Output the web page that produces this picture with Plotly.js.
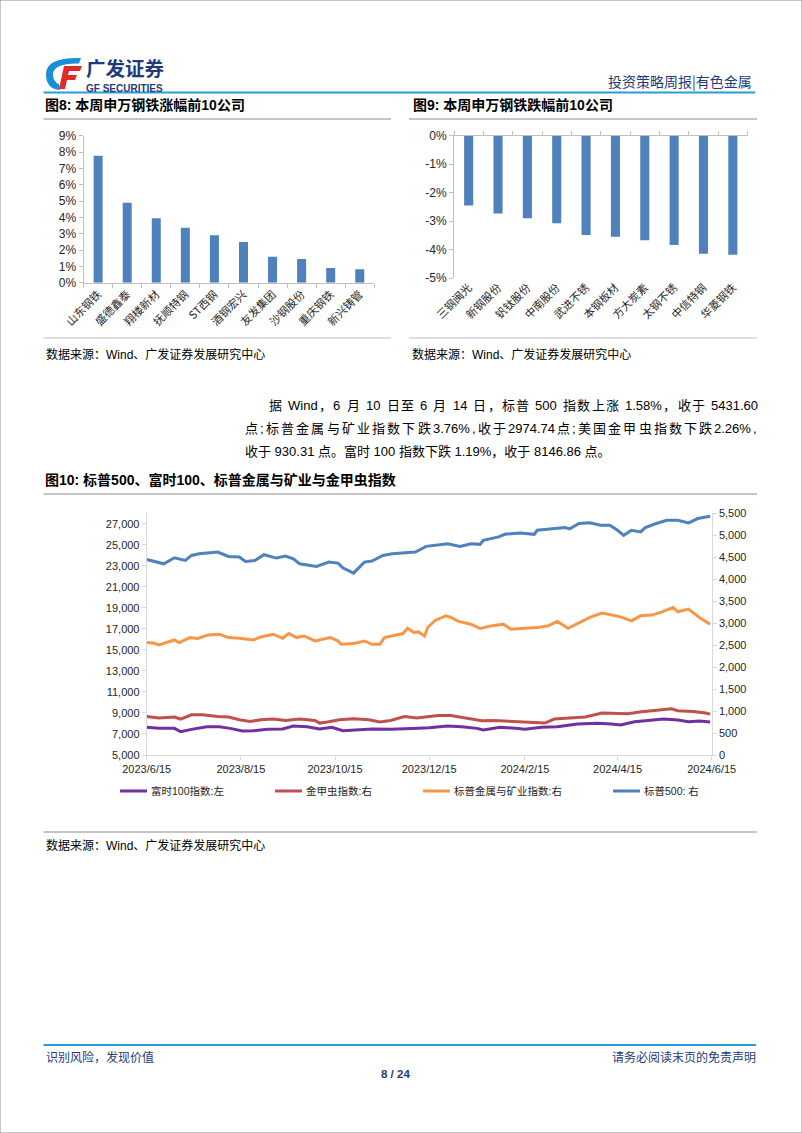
<!DOCTYPE html>
<html><head><meta charset="utf-8">
<script src="https://cdn.plot.ly/plotly-3.0.1.min.js"></script>
<style>html,body{margin:0;padding:0;background:#fff}#page{width:802px;height:1133px}</style>
</head><body><div id="page"></div>
<script>
// ---------------- DATA ----------------
const risersNames = ['山东钢铁','盛德鑫泰','翔楼新材','抚顺特钢','ST西钢','酒钢宏兴','友发集团','沙钢股份','重庆钢铁','新兴铸管'];
const risersPct   = [7.78, 4.90, 3.94, 3.37, 2.90, 2.49, 1.59, 1.45, 0.90, 0.82];

const fallersNames = ['三钢闽光','新钢股份','钒钛股份','中南股份','武进不锈','本钢板材','方大炭素','太钢不锈','中信特钢','华菱钢铁'];
const fallersPct   = [-2.45, -2.73, -2.90, -3.08, -3.49, -3.55, -3.67, -3.84, -4.15, -4.18];
const fallersTicks = [0, -1, -2, -3, -4, -5];

const spxDates = ['2023-06-15','2023-06-26','2023-07-03','2023-07-10','2023-07-14','2023-07-19','2023-07-31','2023-08-07','2023-08-14','2023-08-18','2023-08-24','2023-08-30','2023-09-07','2023-09-13','2023-09-18','2023-09-22','2023-10-03','2023-10-11','2023-10-17','2023-10-20','2023-10-27','2023-11-03','2023-11-08','2023-11-15','2023-11-21','2023-11-30','2023-12-06','2023-12-13','2023-12-18','2023-12-27','2024-01-04','2024-01-11','2024-01-17','2024-01-19','2024-01-29','2024-02-02','2024-02-12','2024-02-21','2024-02-23','2024-03-04','2024-03-12','2024-03-15','2024-03-21','2024-03-28','2024-04-04','2024-04-10','2024-04-15','2024-04-19','2024-04-24','2024-04-30','2024-05-03','2024-05-10','2024-05-17','2024-05-24','2024-05-31','2024-06-06','2024-06-14'];
const spxVals = [4449,4351,4488,4427,4541,4580,4619,4518,4504,4404,4427,4557,4481,4527,4465,4351,4289,4389,4366,4259,4138,4389,4412,4541,4580,4603,4619,4748,4770,4809,4748,4809,4793,4885,4962,5022,5054,5022,5114,5153,5175,5146,5267,5283,5228,5228,5114,4999,5114,5077,5175,5267,5343,5343,5283,5381,5432];

const metalsDates = ['2023-06-15','2023-06-20','2023-06-23','2023-07-03','2023-07-06','2023-07-13','2023-07-18','2023-07-25','2023-08-01','2023-08-07','2023-08-14','2023-08-23','2023-08-28','2023-09-05','2023-09-11','2023-09-15','2023-09-20','2023-09-25','2023-10-02','2023-10-09','2023-10-12','2023-10-17','2023-10-19','2023-10-27','2023-11-03','2023-11-08','2023-11-13','2023-11-16','2023-11-21','2023-11-28','2023-12-01','2023-12-05','2023-12-08','2023-12-12','2023-12-14','2023-12-19','2023-12-26','2023-12-29','2024-01-03','2024-01-11','2024-01-17','2024-01-24','2024-02-01','2024-02-06','2024-02-15','2024-02-23','2024-03-01','2024-03-07','2024-03-14','2024-03-20','2024-03-28','2024-04-05','2024-04-11','2024-04-17','2024-04-24','2024-04-30','2024-05-07','2024-05-13','2024-05-21','2024-05-24','2024-05-31','2024-06-04','2024-06-07','2024-06-14'];
const metalsVals = [2558,2542,2503,2618,2558,2672,2650,2732,2748,2672,2656,2618,2686,2748,2656,2764,2672,2709,2595,2650,2672,2595,2519,2535,2595,2519,2519,2672,2709,2764,2885,2787,2801,2709,2901,3068,3167,3130,3039,2977,2878,2938,2977,2862,2885,2901,2938,3039,2885,2993,3130,3229,3190,3144,3053,3167,3183,3245,3359,3259,3320,3206,3130,2975];

const goldBugsDates = ['2023-06-15','2023-06-23','2023-07-03','2023-07-07','2023-07-14','2023-07-21','2023-07-31','2023-08-07','2023-08-14','2023-08-21','2023-08-28','2023-09-05','2023-09-13','2023-09-22','2023-10-02','2023-10-05','2023-10-10','2023-10-18','2023-10-27','2023-11-06','2023-11-13','2023-11-20','2023-11-29','2023-12-07','2023-12-15','2023-12-21','2023-12-29','2024-01-08','2024-01-18','2024-01-26','2024-02-06','2024-02-15','2024-02-28','2024-03-05','2024-03-14','2024-03-25','2024-04-05','2024-04-15','2024-04-22','2024-04-29','2024-05-10','2024-05-20','2024-05-24','2024-06-03','2024-06-11','2024-06-14'];
const goldBugsVals = [877,840,863,818,916,916,877,863,802,763,802,818,786,818,786,726,749,802,824,802,749,786,877,840,877,900,900,840,779,786,763,740,726,818,840,863,955,955,939,978,1014,1053,1008,992,955,930];

const ftseDates = ['2023-06-15','2023-06-23','2023-07-03','2023-07-07','2023-07-14','2023-07-24','2023-08-01','2023-08-08','2023-08-16','2023-08-23','2023-09-01','2023-09-11','2023-09-18','2023-09-27','2023-10-05','2023-10-13','2023-10-20','2023-10-30','2023-11-08','2023-11-20','2023-11-30','2023-12-08','2023-12-15','2023-12-27','2024-01-05','2024-01-15','2024-01-19','2024-01-30','2024-02-09','2024-02-15','2024-02-26','2024-03-07','2024-03-20','2024-04-02','2024-04-11','2024-04-17','2024-04-26','2024-05-07','2024-05-15','2024-05-24','2024-05-31','2024-06-07','2024-06-14'];
const ftseVals = [7630,7535,7535,7212,7440,7687,7687,7535,7279,7307,7440,7469,7754,7687,7469,7630,7307,7374,7469,7440,7469,7535,7592,7754,7687,7535,7374,7630,7535,7440,7630,7687,7943,8010,7943,7849,8162,8323,8418,8323,8162,8228,8147];

const lineTickDates = ['2023-06-15','2023-08-15','2023-10-15','2023-12-15','2024-02-15','2024-04-15','2024-06-15'];
const lineTickText  = ['2023/6/15','2023/8/15','2023/10/15','2023/12/15','2024/2/15','2024/4/15','2024/6/15'];

const seriesNames = ['富时100指数:左','金甲虫指数:右','标普金属与矿业指数:右','标普500: 右'];

// ---------------- HELPERS ----------------
const W = 802, H = 1133;
const px = x => x / W, py = y => 1 - y / H;
const CJK = 'Noto Sans CJK SC';
const MIX = 'Liberation Sans, Noto Sans CJK SC';
const NAVY = '#1f3b7a';
const COLORS = {ftse:'#7030a0', gold:'#c0504d', metals:'#f79646', spx:'#4f81bd', bar:'#4f81bd'};

function ann(text, x, y, size, color, anchor, family) {
  return {text:text, x:px(x), y:py(y), xref:'paper', yref:'paper', xanchor:anchor||'left', yanchor:'middle',
          showarrow:false, borderpad:0, font:{family:family||MIX, size:size, color:color||'#000'}};
}
function hline(x0, x1, y, color, width) {
  return {type:'line', xref:'paper', yref:'paper', x0:px(x0), x1:px(x1), y0:py(y), y1:py(y), line:{color:color, width:width||1}};
}
function P(x, y) { return px(x).toFixed(5) + ',' + py(y).toFixed(5); }

const measureCtx = document.createElement('canvas').getContext('2d');
function justified(text, x0, x1, y, size, color) {
  measureCtx.font = size + 'px "Liberation Sans", "Noto Sans CJK SC"';
  const toks = text.match(/[A-Za-z0-9.%]+|\s+|[^\sA-Za-z0-9.%]/g);
  const widths = toks.map(t => measureCtx.measureText(t).width);
  const total = widths.reduce((a, b) => a + b, 0);
  const extra = (x1 - x0 - total) / (toks.length - 1);
  let x = x0; const out = [];
  toks.forEach((t, i) => { if (!/^\s+$/.test(t)) out.push(ann(t, x, y, size, color)); x += widths[i] + extra; });
  return out;
}

// ---------------- TRACES ----------------
const traces = [
  {type:'bar', x:risersNames, y:risersPct, xaxis:'x', yaxis:'y', width:0.31, marker:{color:COLORS.bar}, hoverinfo:'skip'},
  {type:'bar', x:fallersNames, y:fallersPct, xaxis:'x2', yaxis:'y2', width:0.31, marker:{color:COLORS.bar}, hoverinfo:'skip'},
  {type:'scatter', x:[], y:[], xaxis:'x4', yaxis:'y2', hoverinfo:'skip'},
  {type:'scatter', mode:'lines', name:seriesNames[0], x:ftseDates, y:ftseVals, xaxis:'x3', yaxis:'y3', line:{color:COLORS.ftse, width:3}},
  {type:'scatter', mode:'lines', name:seriesNames[1], x:goldBugsDates, y:goldBugsVals, xaxis:'x3', yaxis:'y4', line:{color:COLORS.gold, width:3}},
  {type:'scatter', mode:'lines', name:seriesNames[2], x:metalsDates, y:metalsVals, xaxis:'x3', yaxis:'y4', line:{color:COLORS.metals, width:3}},
  {type:'scatter', mode:'lines', name:seriesNames[3], x:spxDates, y:spxVals, xaxis:'x3', yaxis:'y4', line:{color:COLORS.spx, width:3}}
];

// ---------------- LAYOUT ----------------
const axGray = '#bfbfbf';
const tickFont = {family:'Liberation Sans', size:12, color:'#262626'};
const catFont = {family:CJK, size:11, color:'#262626'};
const boundaries = fallersNames.map((c, i) => i - 0.5).concat([fallersNames.length - 0.5]);

const shapes = [
  {type:'rect', xref:'paper', yref:'paper', x0:0, x1:1, y0:0, y1:1, line:{color:'#8c8c8c', width:1}},
  hline(43.5, 755, 92.5, '#2a9bd6', 2),
  hline(43.5, 391, 119, '#8c8c8c', 1),
  hline(409, 757, 119, '#8c8c8c', 1),
  hline(43.5, 391, 338, '#bfbfbf', 1),
  hline(409, 757, 338, '#bfbfbf', 1),
  hline(43.5, 757, 494, '#8c8c8c', 1),
  hline(43.5, 757, 832, '#8c8c8c', 1),
  hline(43.5, 756, 1045, '#2a9bd6', 2),
  // logo icon
  {type:'path', xref:'paper', yref:'paper', fillcolor:'#1a8fd6', line:{width:0},
   path:'M'+P(81,58)+' Q'+P(46,57)+' '+P(46,74)+' Q'+P(46,89)+' '+P(60,90)+' L'+P(59,84)+' Q'+P(53,82)+' '+P(53,74)+' Q'+P(54,63)+' '+P(79,63.5)+' Z'},
  {type:'path', xref:'paper', yref:'paper', fillcolor:'#e02a2a', line:{width:0},
   path:'M'+P(64,66)+' L'+P(82,66)+' L'+P(80,71)+' L'+P(69,71)+' L'+P(68,75)+' L'+P(77,75)+' L'+P(75,80)+' L'+P(67,80)+' L'+P(65,89)+' L'+P(59,89)+' Z'}
];

const legendX = [120, 275, 423, 613];
const legendColors = [COLORS.ftse, COLORS.gold, COLORS.metals, COLORS.spx];
legendX.forEach((x, i) => shapes.push(hline(x, x + 27, 791, legendColors[i], 3)));

let annotations = [
  ann('<b>广发证券</b>', 85, 68, 19.5, NAVY, 'left', CJK),
  ann('<b>GF SECURITIES</b>', 85, 88.5, 10, NAVY, 'left', 'Liberation Sans'),
  ann('投资策略周报|有色金属', 753, 81, 14, NAVY, 'right', CJK),
  ann('<b>图8: 本周申万钢铁涨幅前10公司</b>', 44, 105, 14, '#000'),
  ann('<b>图9: 本周申万钢铁跌幅前10公司</b>', 412, 105, 14, '#000'),
  ann('数据来源：Wind、广发证券发展研究中心', 45, 355, 12, '#000'),
  ann('数据来源：Wind、广发证券发展研究中心', 411, 355, 12, '#000'),
  ann('收于 930.31 点。富时 100 指数下跌 1.19%，收于 8146.86 点。', 244, 451, 13, '#000'),
  ann('<b>图10: 标普500、富时100、标普金属与矿业与金甲虫指数</b>', 44, 480, 14, '#000'),
  ann('数据来源：Wind、广发证券发展研究中心', 45, 845, 12, '#000'),
  ann('识别风险，发现价值', 45, 1056, 12, NAVY, 'left', CJK),
  ann('请务必阅读末页的免责声明', 757, 1056, 12, NAVY, 'right', CJK),
  ann('<b>8 / 24</b>', 395, 1074, 11.5, NAVY, 'center', 'Liberation Sans')
];
annotations = annotations.concat(
  justified('据 Wind，6 月 10 日至 6 月 14 日，标普 500 指数上涨 1.58%，收于 5431.60', 268, 757, 406, 13, '#000'),
  justified('点;标普金属与矿业指数下跌3.76%,收于2974.74点;美国金甲虫指数下跌2.26%,', 244, 756, 428.5, 13, '#000')
);
legendX.forEach((x, i) => annotations.push(ann(seriesNames[i], x + 30, 791, 10.5, '#262626', 'left', MIX)));

const layout = {
  width:W, height:H, margin:{l:0, r:0, t:0, b:0},
  paper_bgcolor:'#fff', plot_bgcolor:'rgba(0,0,0,0)', showlegend:false,
  font:{family:MIX, size:11, color:'#262626'},
  xaxis:{domain:[px(83.6), px(374.3)], anchor:'y', type:'category', categoryorder:'array', categoryarray:risersNames,
         showline:true, linecolor:axGray, ticks:'outside', tickson:'boundaries', ticklen:4, tickcolor:axGray,
         tickangle:-45, tickfont:catFont, showgrid:false, zeroline:false},
  yaxis:{domain:[py(282.7), py(135.7)], anchor:'x', range:[0, 9], tick0:0, dtick:1, ticksuffix:'%',
         showline:true, linecolor:axGray, ticks:'outside', ticklen:4, tickcolor:axGray, tickfont:tickFont,
         showgrid:false, zeroline:false},
  xaxis2:{domain:[px(454), px(747.5)], anchor:'y2', type:'category', categoryorder:'array', categoryarray:fallersNames,
          showline:false, ticks:'', tickangle:-45, tickfont:catFont, showgrid:false, zeroline:false},
  xaxis4:{overlaying:'x2', anchor:'y2', side:'top', range:[-0.5, fallersNames.length - 0.5], tickvals:boundaries,
          showticklabels:false, ticks:'outside', ticklen:4, tickcolor:axGray, showline:true, linecolor:axGray,
          showgrid:false, zeroline:false},
  yaxis2:{domain:[py(278), py(135.7)], anchor:'x2', range:[-5, 0], tickvals:fallersTicks, ticktext:fallersTicks.map(v => v + '%'),
          showline:true, linecolor:axGray, ticks:'outside', ticklen:4, tickcolor:axGray, tickfont:tickFont,
          showgrid:false, zeroline:false},
  xaxis3:{domain:[px(146.7), px(711.7)], anchor:'y3', type:'date', range:['2023-06-15', '2024-06-15 00:00:01'],
          tickvals:lineTickDates, ticktext:lineTickText, showline:true, linecolor:'#d9d9d9', ticks:'outside', ticklen:4,
          tickcolor:'#d9d9d9', tickfont:{family:'Liberation Sans', size:11, color:'#262626'}, showgrid:false, zeroline:false},
  yaxis3:{domain:[py(755), py(513.3)], anchor:'x3', range:[5000, 28000], tick0:5000, dtick:2000, tickformat:',d',
          showline:true, linecolor:'#d9d9d9', ticks:'outside', ticklen:4, tickcolor:'#d9d9d9',
          tickfont:{family:'Liberation Sans', size:11, color:'#262626'}, showgrid:false, zeroline:false},
  yaxis4:{overlaying:'y3', anchor:'x3', side:'right', range:[0, 5500], tick0:0, dtick:500, tickformat:',d',
          showline:true, linecolor:'#d9d9d9', ticks:'outside', ticklen:4, tickcolor:'#d9d9d9',
          tickfont:{family:'Liberation Sans', size:11, color:'#262626'}, showgrid:false, zeroline:false},
  shapes:shapes,
  annotations:annotations
};

Plotly.newPlot('page', traces, layout, {displayModeBar:false, staticPlot:true});
</script></body></html>
